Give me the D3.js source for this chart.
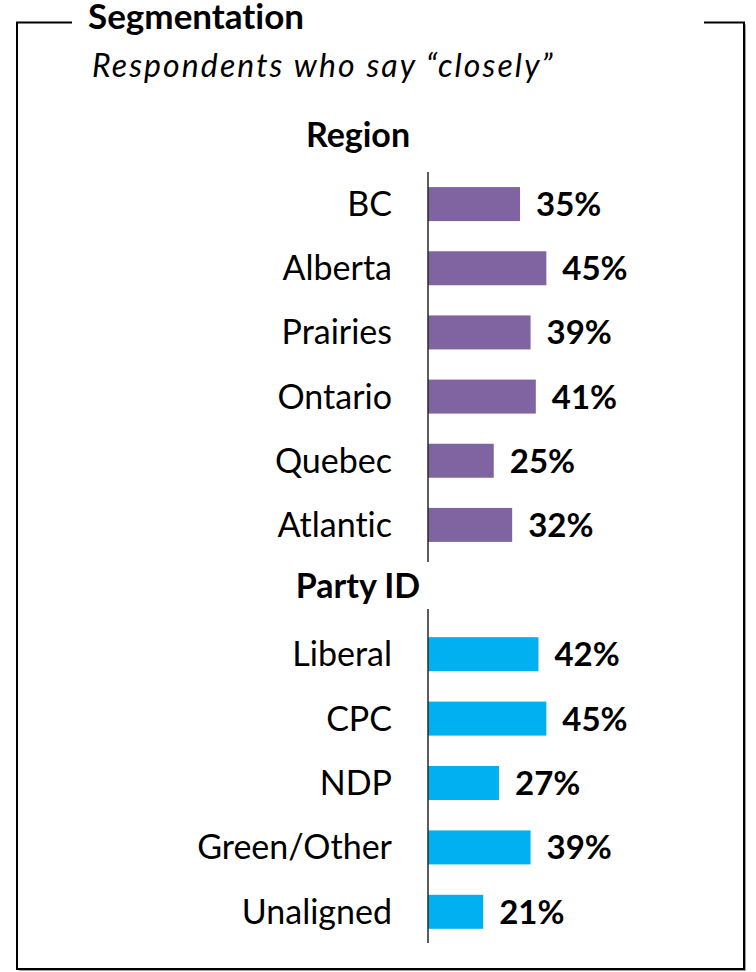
<!DOCTYPE html>
<html>
<head>
<meta charset="utf-8">
<script src="https://cdn.jsdelivr.net/npm/d3@7/dist/d3.min.js"></script>
<style>
  html, body { margin: 0; padding: 0; background: #fff; }
  svg { display: block; }
  text { font-family: Lato, "Open Sans", "Liberation Sans", sans-serif; fill: #000; font-variant-ligatures: none; }
</style>
</head>
<body>
<svg id="chart" width="756" height="972"></svg>
<script>
const titleText = "Segmentation";
const subtitleText = "Respondents who say \u201cclosely\u201d";

const regionHeader = "Region";
const regionCategories = ["BC", "Alberta", "Prairies", "Ontario", "Quebec", "Atlantic"];
const regionValues = [35, 45, 39, 41, 25, 32];

const partyHeader = "Party ID";
const partyCategories = ["Liberal", "CPC", "NDP", "Green/Other", "Unaligned"];
const partyValues = [42, 45, 27, 39, 21];

const regionColor = "#8064A2";
const partyColor = "#00B0F0";

const svg = d3.select("#chart");

// frame
const frame = svg.append("g");
const fx0 = 17, fx1 = 744, fy0 = 22.5, fy1 = 969;
frame.append("path")
  .attr("d", `M${fx1 + 1.5},${fy0 + 2} L${fx1 + 1.5},${fy1 + 1.5} L${fx0 + 2},${fy1 + 1.5}`)
  .attr("fill", "none").attr("stroke", "#a0a0a0").attr("stroke-width", 1);
frame.append("path")
  .attr("d", `M72,${fy0} L${fx0},${fy0} L${fx0},${fy1} L${fx1},${fy1} L${fx1},${fy0} L704,${fy0}`)
  .attr("fill", "none").attr("stroke", "#000").attr("stroke-width", 2);

svg.append("text").attr("x", 88).attr("y", 29)
  .attr("font-size", 35).attr("font-weight", 700).text(titleText);
svg.append("text").attr("x", 92).attr("y", 77)
  .attr("font-size", 32).attr("font-style", "italic")
  .attr("letter-spacing", 2.1).text(subtitleText);

const x = d3.scaleLinear().domain([0, 100]).range([428, 691]);
const barH = 34;

function drawGroup(header, headerY, cats, vals, color, yRange, axisExtent) {
  const g = svg.append("g");
  const y = d3.scalePoint().domain(cats).range(yRange).padding(0.5);

  g.append("text").attr("x", 358).attr("y", headerY)
    .attr("text-anchor", "middle").attr("font-size", 34).attr("font-weight", 700)
    .text(header);

  const data = cats.map((c, i) => ({ c, v: vals[i] }));

  g.selectAll("rect.bar").data(data).join("rect")
    .attr("class", "bar")
    .attr("x", x(0))
    .attr("y", d => y(d.c) - barH / 2)
    .attr("width", d => x(d.v) - x(0))
    .attr("height", barH)
    .attr("fill", color);

  g.selectAll("text.cat").data(data).join("text")
    .attr("class", "cat")
    .attr("x", 392)
    .attr("y", d => y(d.c) + 12)
    .attr("text-anchor", "end")
    .attr("font-size", 34)
    .text(d => d.c);

  g.selectAll("text.val").data(data).join("text")
    .attr("class", "val")
    .attr("x", d => x(d.v) + 16)
    .attr("y", d => y(d.c) + 12)
    .attr("font-size", 33)
    .attr("font-weight", 700)
    .text(d => d.v + "%");

  g.append("line")
    .attr("x1", x(0)).attr("x2", x(0))
    .attr("y1", axisExtent[0]).attr("y2", axisExtent[1])
    .attr("stroke", "#262626").attr("stroke-width", 1.5);
}

drawGroup(regionHeader, 147, regionCategories, regionValues, regionColor, [172, 557], [172, 562]);
drawGroup(partyHeader, 598, partyCategories, partyValues, partyColor, [622, 944], [609, 943]);
</script>
</body>
</html>
